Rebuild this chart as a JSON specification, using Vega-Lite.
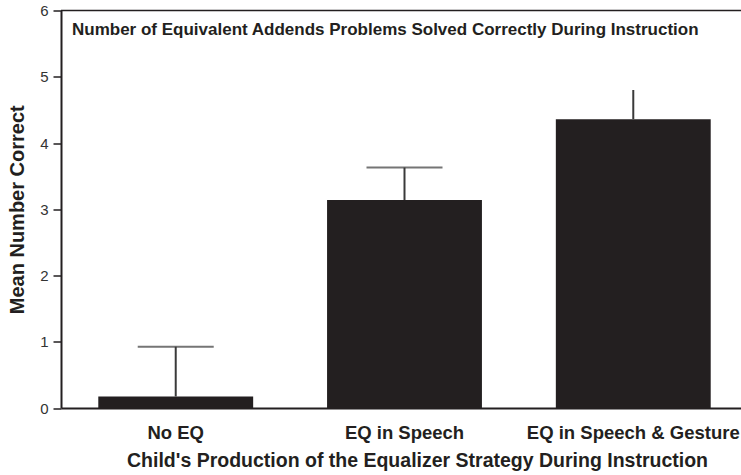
{
  "$schema": "https://vega.github.io/schema/vega-lite/v6.json",
  "autosize": {"type": "none"},
  "width": 680,
  "height": 397.5,
  "padding": {"left": 61, "top": 10.5, "right": 0, "bottom": 67},
  "background": "white",
  "config": {
    "view": {"stroke": null},
    "font": "Liberation Sans"
  },
  "title": {
    "text": "Number of Equivalent Addends Problems Solved Correctly During Instruction",
    "anchor": "start",
    "frame": "group",
    "orient": "top",
    "offset": -35,
    "dx": 11,
    "fontSize": 17,
    "fontWeight": "bold",
    "color": "#231f20",
    "font": "Liberation Sans"
  },
  "data": {
    "values": [
      {"group": "No EQ", "mean": 0.174, "upper": 0.925},
      {"group": "EQ in Speech", "mean": 3.14, "upper": 3.63},
      {"group": "EQ in Speech & Gesture", "mean": 4.36, "upper": 4.80}
    ]
  },
  "encoding": {
    "x": {
      "field": "group",
      "type": "nominal",
      "sort": null,
      "scale": {"range": [0, 687], "paddingInner": 0.323, "paddingOuter": 0.163},
      "axis": {
        "title": "Child's Production of the Equalizer Strategy During Instruction",
        "titleFontSize": 19.5,
        "titleFontWeight": "bold",
        "titleColor": "#231f20",
        "titlePadding": 10,
        "titleX": 356,
        "labelFontSize": 18.5,
        "labelFontWeight": "bold",
        "labelColor": "#231f20",
        "labelPadding": 15,
        "labelAngle": 0,
        "labelLimit": 0,
        "ticks": false,
        "domainColor": "#231f20",
        "domainWidth": 2
      }
    }
  },
  "layer": [
    {
      "mark": {"type": "bar", "color": "#231f20"},
      "encoding": {
        "y": {
          "field": "mean",
          "type": "quantitative",
          "scale": {"domain": [0, 6], "nice": false},
          "axis": {
            "title": "Mean Number Correct",
            "titleFontSize": 20,
            "titleFontWeight": "bold",
            "titleColor": "#231f20",
            "titlePadding": 12,
            "values": [0, 0.5, 1, 1.5, 2, 2.5, 3, 3.5, 4, 4.5, 5, 5.5, 6],
            "format": "d",
            "labelExpr": "datum.value % 1 === 0 ? format(datum.value, 'd') : ''",
            "labelFontSize": 15,
            "labelColor": "#333333",
            "labelPadding": 5,
            "tickSize": {"condition": {"test": "datum.value % 1 === 0", "value": 8}, "value": 3},
            "tickColor": "#231f20",
            "tickWidth": 1.5,
            "domainColor": "#231f20",
            "domainWidth": 2,
            "grid": false
          }
        }
      }
    },
    {
      "mark": {"type": "rule", "color": "#3a3a3a", "strokeWidth": 2},
      "encoding": {
        "y": {"field": "mean", "type": "quantitative"},
        "y2": {"field": "upper"}
      }
    },
    {
      "transform": [{"filter": "datum.group !== 'EQ in Speech & Gesture'"}],
      "mark": {"type": "tick", "color": "#3a3a3a", "thickness": 2, "size": 76},
      "encoding": {
        "y": {"field": "upper", "type": "quantitative"}
      }
    },
    {
      "data": {"values": [{"top": 6}]},
      "mark": {"type": "rule", "color": "#231f20", "strokeWidth": 1.5},
      "encoding": {
        "x": null,
        "y": {"field": "top", "type": "quantitative"}
      }
    }
  ]
}
